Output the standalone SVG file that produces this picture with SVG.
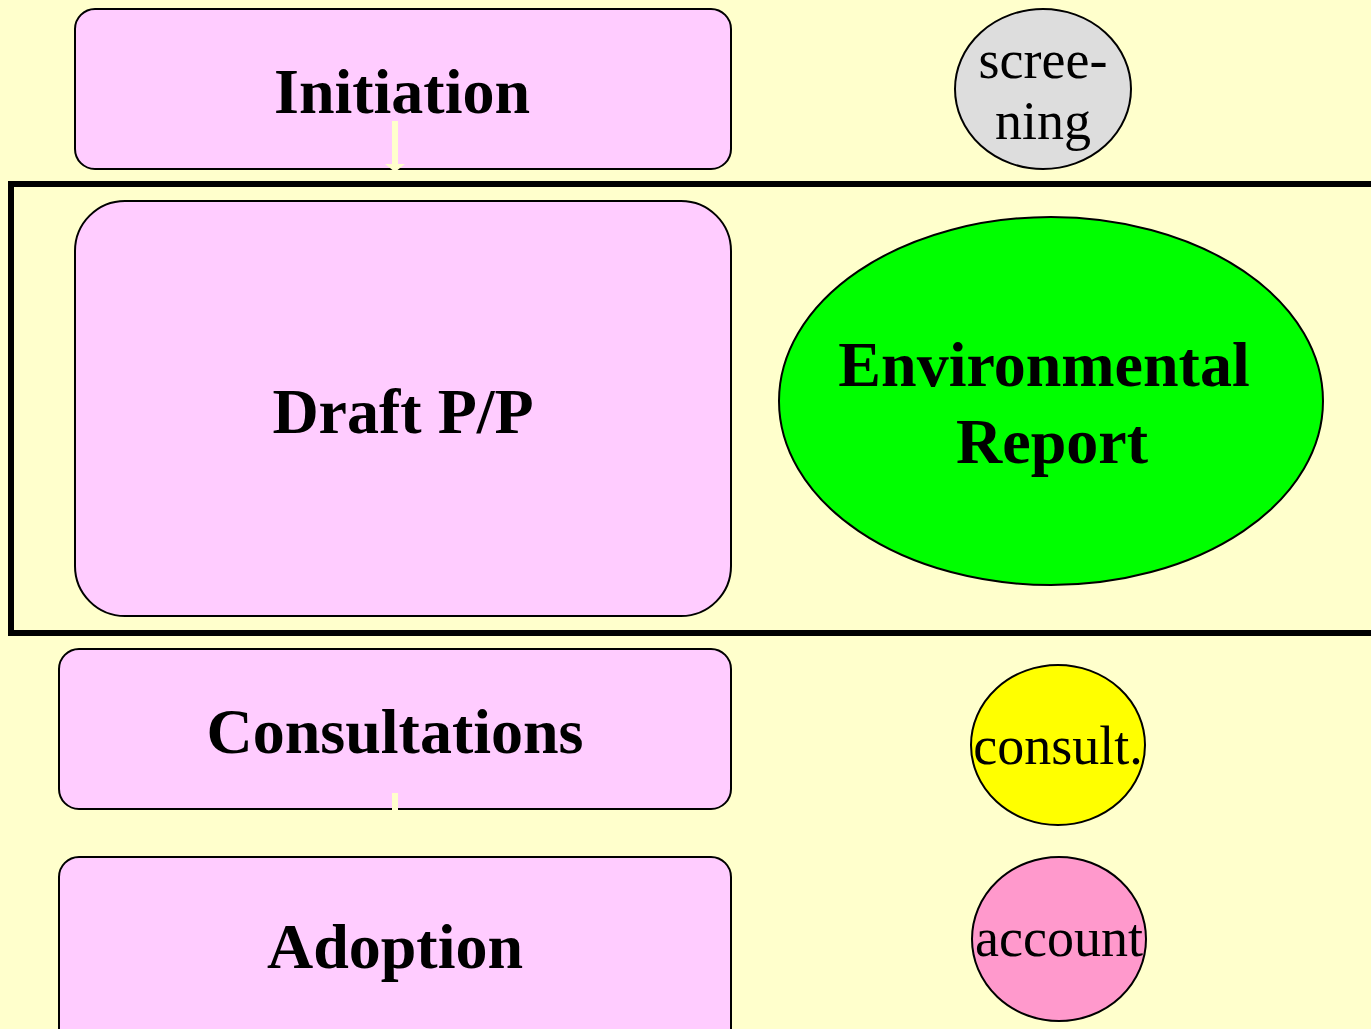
<svg xmlns="http://www.w3.org/2000/svg" width="1371" height="1029" viewBox="0 0 1371 1029">
<style>
.box{fill:#FFCCFF;stroke:#000;stroke-width:2}
.ell{stroke:#000;stroke-width:2}
.big{font-family:"Liberation Serif",serif;font-weight:bold;font-size:64px;text-anchor:middle;fill:#000}
.small{font-family:"Liberation Serif",serif;font-size:54px;text-anchor:middle;fill:#000}
.conn{stroke:#FFFFCC;stroke-width:6;fill:none}
</style>
<rect x="0" y="0" width="1371" height="1029" fill="#FFFFCC"/>
<g id="initiation"><rect class="box" x="75" y="9" width="656" height="160" rx="20"/><text class="big" x="402" y="113">Initiation</text></g>
<g id="draft"><rect class="box" x="75" y="201" width="656" height="415" rx="50"/><text class="big" x="403" y="433">Draft P/P</text></g>
<g id="consultations"><rect class="box" x="59" y="649" width="672" height="160" rx="20"/><text class="big" x="395" y="753">Consultations</text></g>
<g id="adoption"><rect class="box" x="59" y="857" width="672" height="200" rx="20"/><text class="big" x="395" y="968">Adoption</text></g>
<g id="connectors">
<line class="conn" x1="395" y1="121" x2="395" y2="165"/>
<path d="M385,164 L405,164 L395,172 Z" fill="#FFFFCC"/>
<line class="conn" x1="395" y1="793" x2="395" y2="856"/>
</g>
<g id="frame"><rect x="11" y="184" width="1380" height="449" fill="none" stroke="#000" stroke-width="6"/></g>
<g id="screening"><ellipse class="ell" cx="1043" cy="89" rx="88" ry="80" fill="#DDDDDD"/><text class="small" x="1043" y="78">scree-</text><text class="small" x="1043" y="139">ning</text></g>
<g id="env-report"><ellipse class="ell" cx="1051" cy="401" rx="272" ry="184" fill="#00FF00"/><text class="big" x="1044" y="386">Environmental</text><text class="big" x="1052" y="463">Report</text></g>
<g id="consult"><ellipse class="ell" cx="1058" cy="745" rx="87" ry="80" fill="#FFFF00"/><text class="small" x="1058" y="764">consult.</text></g>
<g id="account"><ellipse class="ell" cx="1059" cy="939" rx="87" ry="82" fill="#FF99CC"/><text class="small" x="1059" y="956">account</text></g>
</svg>
